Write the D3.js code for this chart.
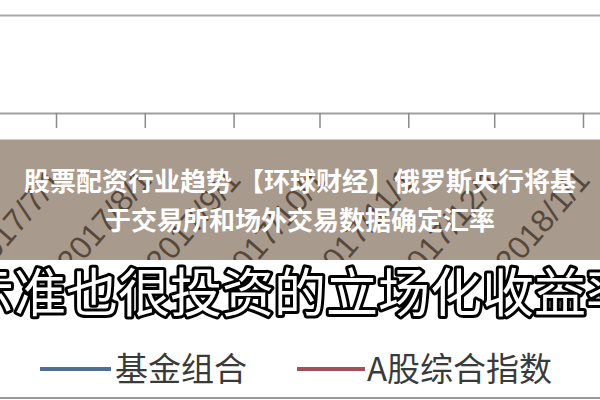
<!DOCTYPE html>
<html><head><meta charset="utf-8">
<script src="https://cdn.jsdelivr.net/npm/d3@7"></script>
<style>html,body{margin:0;padding:0;background:#fff;overflow:hidden}</style>
</head><body>
<svg id="chart" width="600" height="400"></svg>
<script>
// ---- data ----
const tickLabels = ["2017/7/1","2017/8/1","2017/9/1","2017/10/1","2017/11/1","2017/12/1","2018/1/1"];
const gridValues = [0, 1];
const seriesNames = ["基金组合","A股综合指数"];
const seriesColors = ["#4f6f98","#a54f59"];
const titleLines = ["股票配资行业趋势 【环球财经】俄罗斯央行将基","于交易所和场外交易数据确定汇率"];
const overlayText = "示准也很投资的立场化收益率";

const svg = d3.select("#chart");
const W = 600, H = 400;
const parse = d3.timeParse("%Y/%m/%d");
const dates = tickLabels.map(parse);

const x = d3.scaleTime().domain([dates[0], dates[dates.length-1]]).range([56, 583]);
const y = d3.scaleLinear().domain([0, 1]).range([113, 15.5]);

svg.append("rect").attr("width",W).attr("height",H).attr("fill","#fff");

// grid line(s)
svg.append("g").selectAll("line").data(gridValues.filter(v=>v>0)).join("line")
  .attr("x1",0).attr("x2",W).attr("y1",d=>y(d)).attr("y2",d=>y(d))
  .attr("stroke","#a9a9a9").attr("stroke-width",2);

// x axis
const xAxis = d3.axisBottom(x).tickValues(dates).tickSize(15).tickFormat(d3.timeFormat("%Y/%-m/%-d"));
const gx = svg.append("g").attr("transform",`translate(0,${y(0)})`).call(xAxis);
gx.select(".domain").attr("d",`M0,0.5H${W}`).attr("stroke","#a0a0a0").attr("stroke-width",2);
gx.selectAll(".tick line").attr("stroke","#8a8a8a").attr("stroke-width",1.5);
gx.selectAll(".tick text")
  .attr("x",0).attr("y",0).attr("dy",0)
  .attr("text-anchor","end")
  .attr("transform","translate(8,68) rotate(-49)")
  .attr("font-family","Liberation Sans, Arial, sans-serif")
  .attr("font-size",32).attr("fill","#111");

// brown translucent banner
svg.append("rect").attr("x",0).attr("y",139.5).attr("width",W).attr("height",121)
  .attr("fill","rgb(125,102,83)").attr("fill-opacity",0.66);

svg.append("g").selectAll("text").data(titleLines).join("text")
  .attr("x",300).attr("y",(d,i)=>191 + i*39)
  .attr("text-anchor","middle")
  .attr("font-family","Noto Sans CJK SC, sans-serif").attr("font-weight",700)
  .attr("font-size",26).attr("fill","#fff")
  .text(d=>d);

// white band with outlined text
svg.append("rect").attr("x",0).attr("y",260).attr("width",W).attr("height",H-260).attr("fill","#fff");
svg.append("text").attr("x",300).attr("y",312)
  .attr("text-anchor","middle")
  .attr("font-family","Noto Sans CJK SC, sans-serif").attr("font-weight",400)
  .attr("font-size",52).attr("fill","#fff")
  .attr("stroke","#000").attr("stroke-width",6).attr("stroke-linejoin","round")
  .attr("paint-order","stroke")
  .text(overlayText);

// legend
const legendX = [40, 297];
const lg = svg.append("g").selectAll("g").data(seriesNames).join("g")
  .attr("transform",(d,i)=>`translate(${legendX[i]},369)`);
lg.append("line").attr("x1",0).attr("x2",(d,i)=>i===0?71:68).attr("y1",0).attr("y2",0)
  .attr("stroke",(d,i)=>seriesColors[i]).attr("stroke-width",4);
lg.append("text").attr("x",(d,i)=>i===0?75:70).attr("y",12)
  .attr("font-family","Noto Sans CJK SC, sans-serif").attr("font-weight",400)
  .attr("font-size",33).attr("fill","#3a3a3a")
  .text(d=>d);

// bottom line
svg.append("line").attr("x1",0).attr("x2",W).attr("y1",398).attr("y2",398)
  .attr("stroke","#9a9a9a").attr("stroke-width",2);
</script>
</body></html>
